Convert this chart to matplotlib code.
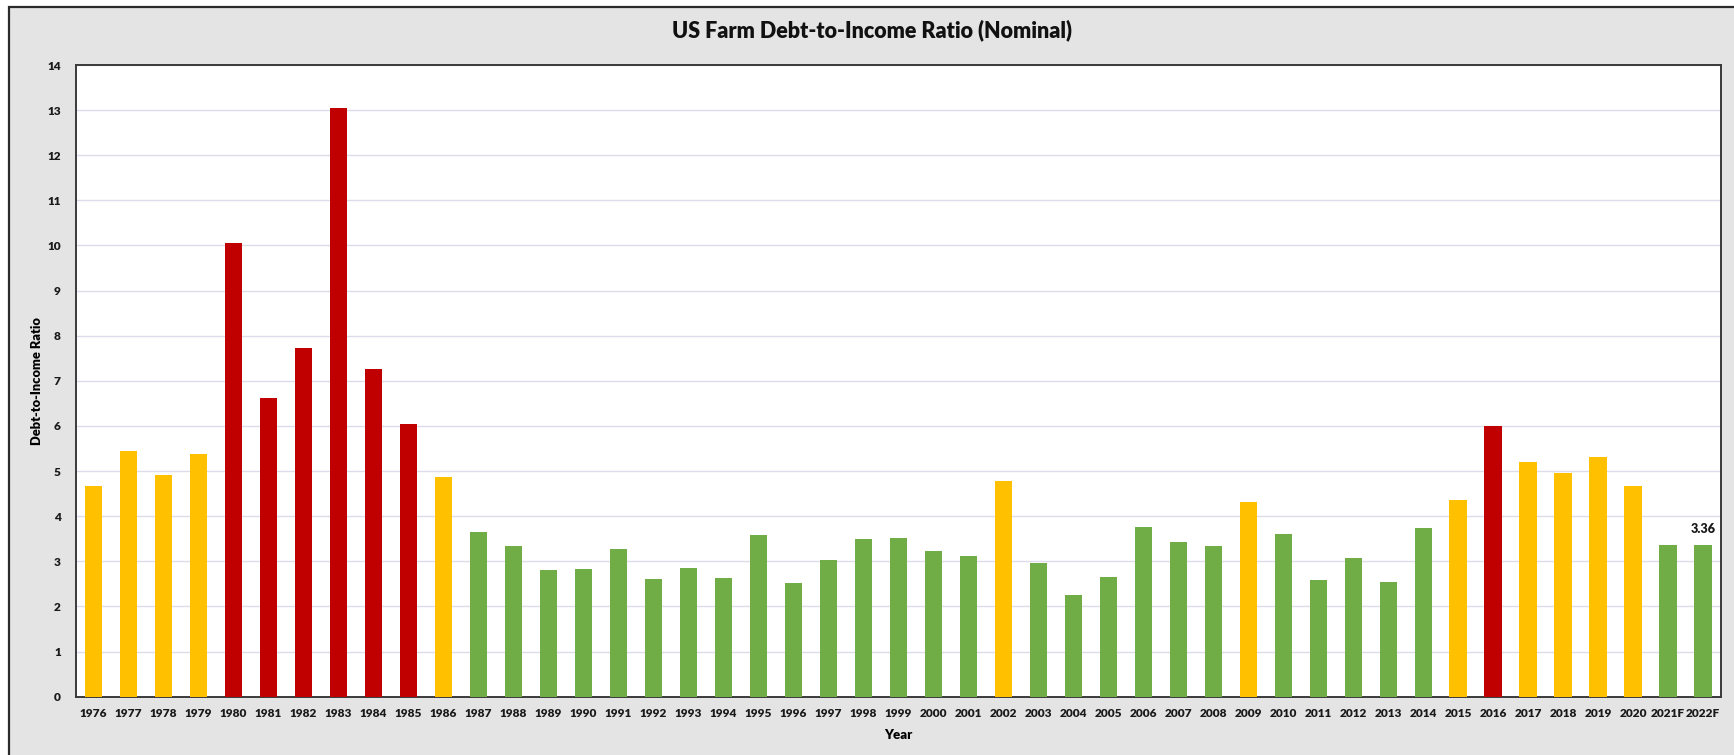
import matplotlib
matplotlib.use("Agg")
import matplotlib.pyplot as plt
from matplotlib.patches import Rectangle

plt.rcParams['font.family'] = ['Lato', 'DejaVu Sans']

years = ['1976', '1977', '1978', '1979', '1980', '1981', '1982', '1983', '1984', '1985',
         '1986', '1987', '1988', '1989', '1990', '1991', '1992', '1993', '1994', '1995',
         '1996', '1997', '1998', '1999', '2000', '2001', '2002', '2003', '2004', '2005',
         '2006', '2007', '2008', '2009', '2010', '2011', '2012', '2013', '2014', '2015',
         '2016', '2017', '2018', '2019', '2020', '2021F', '2022F']

ratio = [4.66, 5.44, 4.91, 5.38, 10.05, 6.62, 7.72, 13.04, 7.26, 6.05,
         4.87, 3.64, 3.35, 2.81, 2.83, 3.27, 2.61, 2.86, 2.63, 3.59,
         2.51, 3.04, 3.49, 3.51, 3.23, 3.11, 4.77, 2.97, 2.25, 2.65,
         3.75, 3.42, 3.34, 4.32, 3.61, 2.58, 3.08, 2.54, 3.73, 4.36,
         6.00, 5.20, 4.96, 5.31, 4.66, 3.37, 3.36]

# risk band per year: H = high, M = moderate, L = low
band = ['M', 'M', 'M', 'M', 'H', 'H', 'H', 'H', 'H', 'H',
        'M', 'L', 'L', 'L', 'L', 'L', 'L', 'L', 'L', 'L',
        'L', 'L', 'L', 'L', 'L', 'L', 'M', 'L', 'L', 'L',
        'L', 'L', 'L', 'M', 'L', 'L', 'L', 'L', 'L', 'M',
        'H', 'M', 'M', 'M', 'M', 'L', 'L']

band_colors = {'H': '#C00000', 'M': '#FFC000', 'L': '#70AD47'}

W, H = 1734, 755
fig = plt.figure(figsize=(W / 100, H / 100), dpi=100)
fig.patch.set_facecolor('white')

# grey chart panel with dark frame
fig.add_artist(Rectangle((9 / W, -0.05), 1.05, 1 - 7 / H + 0.05,
                         transform=fig.transFigure, facecolor='#e4e4e4',
                         edgecolor='#2b2b2b', linewidth=1.6, zorder=0))

ax = fig.add_axes([76 / W, (H - 696.7) / H, (1720.7 - 76) / W, (696.7 - 65) / H])
ax.set_facecolor('white')

x = list(range(len(years)))
ax.bar(x, ratio, width=0.5, color=[band_colors[b] for b in band], zorder=3)

ax.set_xlim(-0.5, len(years) - 0.5)
ax.set_ylim(0, 14)
ax.set_yticks(range(0, 15))
ax.set_xticks(x)
ax.set_xticklabels(years)
ax.tick_params(axis='both', length=0, labelsize=8.6, colors='#1a1a1a')
ax.tick_params(axis='x', pad=8)
ax.tick_params(axis='y', pad=11)
for lbl in ax.get_xticklabels() + ax.get_yticklabels():
    lbl.set_fontweight('heavy')

ax.grid(axis='y', color='#dcdcea', linewidth=1.0, zorder=0)
ax.set_axisbelow(True)
for s in ax.spines.values():
    s.set_color('#3a3a3a')
    s.set_linewidth(1.4)

# value label on the last forecast bar
ax.text(x[-1], ratio[-1] + 0.22, f'{ratio[-1]:.2f}', ha='center', va='bottom',
        fontsize=9, fontweight='heavy', color='#1a1a1a')

ax.set_ylabel('Debt-to-Income Ratio', fontsize=9.3, fontweight='heavy')
ax.yaxis.set_label_coords(-0.0201, 0.5)
ax.set_xlabel('Year', fontsize=9.5, fontweight='heavy', labelpad=7)

fig.text(872 / W, 1 - 30 / H, 'US Farm Debt-to-Income Ratio (Nominal)',
         ha='center', va='center', fontsize=15.5, fontweight='heavy', color='#111111')

fig.savefig('out.png', dpi=100)
